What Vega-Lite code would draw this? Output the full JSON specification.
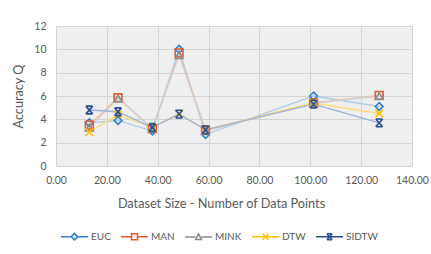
{
  "$schema": "https://vega.github.io/schema/vega-lite/v6.json",
  "width": 356,
  "height": 140,
  "autosize": {"type": "none"},
  "padding": {"left": 56, "top": 26, "right": 19, "bottom": 88},
  "background": "white",
  "config": {
    "font": "Lato",
    "view": {"fill": "#EFEFEF", "stroke": null},
    "axis": {"labelColor": "#595959", "titleColor": "#595959", "labelFontSize": 10.5, "titleFontSize": 12.7, "titleFontWeight": "normal", "gridColor": "#D4D4D4", "gridWidth": 1, "domain": false, "ticks": false, "labelOverlap": false, "labelFlush": false},
    "legend": {"labelColor": "#595959", "labelFontSize": 10}
  },
  "data": {"values": [
    {"series": "EUC", "x": 13.1, "y": 3.7},
    {"series": "EUC", "x": 24.4, "y": 3.9},
    {"series": "EUC", "x": 37.9, "y": 3.0},
    {"series": "EUC", "x": 48.4, "y": 10.0},
    {"series": "EUC", "x": 58.8, "y": 2.7},
    {"series": "EUC", "x": 101.3, "y": 6.0},
    {"series": "EUC", "x": 127.1, "y": 5.1},
    {"series": "MAN", "x": 13.1, "y": 3.5},
    {"series": "MAN", "x": 24.4, "y": 5.85},
    {"series": "MAN", "x": 37.9, "y": 3.2},
    {"series": "MAN", "x": 48.4, "y": 9.7},
    {"series": "MAN", "x": 58.8, "y": 3.1},
    {"series": "MAN", "x": 101.3, "y": 5.4},
    {"series": "MAN", "x": 127.1, "y": 6.05},
    {"series": "MINK", "x": 13.1, "y": 3.3},
    {"series": "MINK", "x": 24.4, "y": 5.8},
    {"series": "MINK", "x": 37.9, "y": 3.2},
    {"series": "MINK", "x": 48.4, "y": 9.5},
    {"series": "MINK", "x": 58.8, "y": 3.0},
    {"series": "MINK", "x": 101.3, "y": 5.4},
    {"series": "MINK", "x": 127.1, "y": 6.0},
    {"series": "DTW", "x": 13.1, "y": 2.9},
    {"series": "DTW", "x": 24.4, "y": 4.4},
    {"series": "DTW", "x": 37.9, "y": 3.3},
    {"series": "DTW", "x": 48.4, "y": 4.5},
    {"series": "DTW", "x": 58.8, "y": 3.1},
    {"series": "DTW", "x": 101.3, "y": 5.4},
    {"series": "DTW", "x": 127.1, "y": 4.5},
    {"series": "SIDTW", "x": 13.1, "y": 4.8},
    {"series": "SIDTW", "x": 24.4, "y": 4.65},
    {"series": "SIDTW", "x": 37.9, "y": 3.3},
    {"series": "SIDTW", "x": 48.4, "y": 4.45},
    {"series": "SIDTW", "x": 58.8, "y": 3.1},
    {"series": "SIDTW", "x": 101.3, "y": 5.3},
    {"series": "SIDTW", "x": 127.1, "y": 3.7}
  ]},
  "encoding": {
    "x": {"field": "x", "type": "quantitative", "scale": {"domain": [0, 140], "nice": false}, "axis": {"values": [0, 20, 40, 60, 80, 100, 120, 140], "format": ".2f", "labelPadding": 9, "titlePadding": 12, "titleX": 165, "titleAlign": "center", "title": "Dataset Size - Number of Data Points"}},
    "y": {"field": "y", "type": "quantitative", "scale": {"domain": [0, 12], "nice": false}, "axis": {"values": [0, 2, 4, 6, 8, 10, 12], "labelPadding": 10, "titlePadding": 8, "title": "Accuracy Q"}}
  },
  "layer": [
    {
      "mark": {"type": "line", "strokeWidth": 1.3},
      "encoding": {
        "stroke": {"field": "series", "type": "nominal", "scale": {"domain": ["EUC", "MAN", "MINK", "DTW", "SIDTW"], "range": ["#A9CBEA", "#F5BC98", "#CFCFCF", "#FFDC73", "#98B1DD"]}, "legend": null},
        "detail": {"field": "series"}
      }
    },
    {
      "mark": {"type": "point", "filled": false, "strokeWidth": 1.6, "size": 60, "opacity": 1},
      "encoding": {
        "stroke": {"field": "series", "type": "nominal", "scale": {"domain": ["EUC", "MAN", "MINK", "DTW", "SIDTW"], "range": ["#2F80D0", "#E8582C", "#8C8C8C", "#FFC000", "#2A4F90"]},
          "legend": {"title": null, "orient": "none", "direction": "horizontal", "legendX": 4, "legendY": 196, "symbolSize": 729, "labelOffset": 2, "columnPadding": 7, "symbolStrokeWidth": 1.5,
            "symbolType": {"expr": "datum.value === 'EUC' ? 'M-1,0L-0.24,0M0.24,0L1,0M-0.24,0L0,-0.24L0.24,0L0,0.24Z' : datum.value === 'MAN' ? 'M-1,0L-0.22,0M0.22,0L1,0M-0.22,-0.22L0.22,-0.22L0.22,0.22L-0.22,0.22Z' : datum.value === 'MINK' ? 'M-1,0L-0.22,0M0.22,0L1,0M-0.22,0.2L0,-0.22L0.22,0.2Z' : datum.value === 'DTW' ? 'M-1,0L1,0M-0.22,-0.22L0.22,0.22M-0.22,0.22L0.22,-0.22' : 'M-1,0L1,0M-0.2,-0.22L0.2,0.22M-0.2,0.22L0.2,-0.22M-0.18,-0.22L0.18,-0.22M-0.18,0.22L0.18,0.22'"}}},
        "shape": {"field": "series", "type": "nominal", "scale": {"domain": ["EUC", "MAN", "MINK", "DTW", "SIDTW"], "range": ["diamond", "square", "triangle-up", "M-1,-1L1,1M-1,1L1,-1", "M-0.9,-1L0.9,1M-0.9,1L0.9,-1M-0.8,-1L0.8,-1M-0.8,1L0.8,1"]}, "legend": null}
      }
    }
  ],
  "resolve": {"scale": {"stroke": "independent"}}
}
